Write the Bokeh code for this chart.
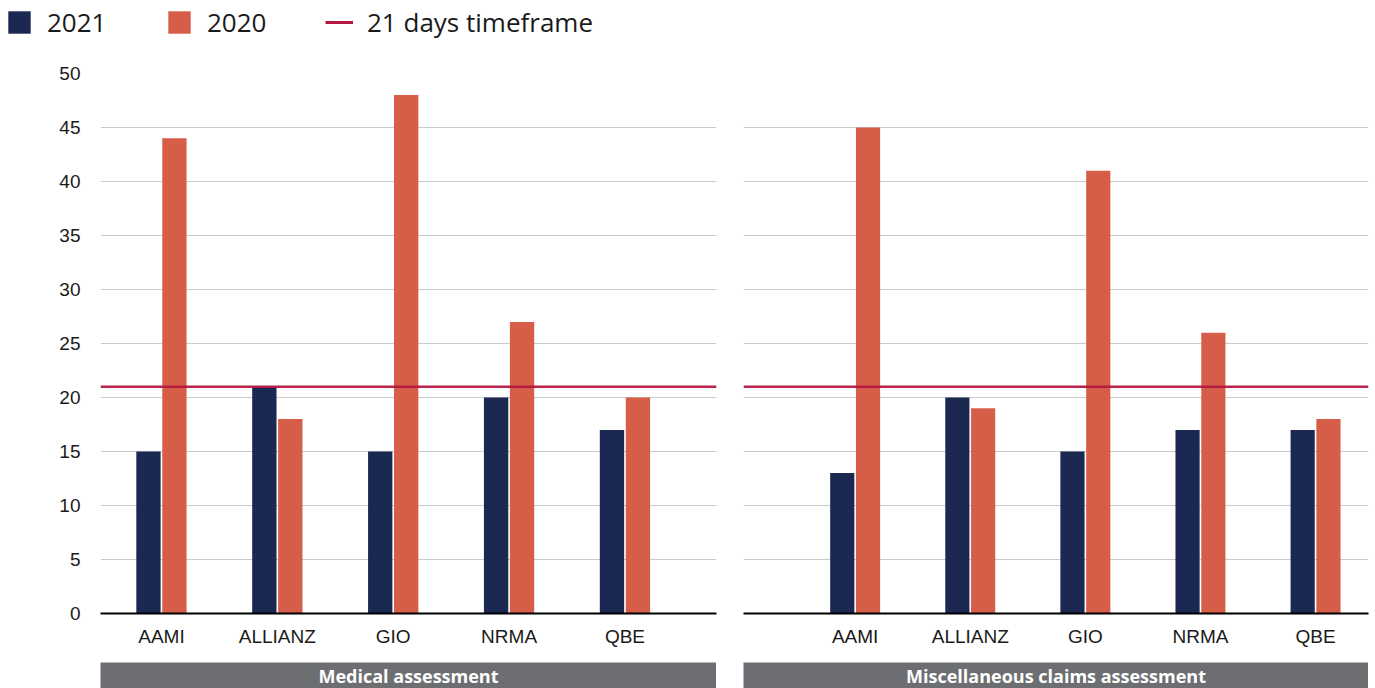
from bokeh.plotting import figure
from bokeh.layouts import column, row
from bokeh.models import (ColumnDataSource, Range1d, FixedTicker, Span, Legend, LegendItem,
                          Grid, Label, Spacer)
from bokeh.transform import dodge
from bokeh.embed import file_html
from bokeh.resources import INLINE

categories = ["AAMI", "ALLIANZ", "GIO", "NRMA", "QBE"]
medical_2021 = [15, 21, 15, 20, 17]
medical_2020 = [44, 18, 48, 27, 20]
misc_2021 = [13, 20, 15, 17, 17]
misc_2020 = [45, 19, 41, 26, 18]
threshold = 21
y_ticks = [0, 5, 10, 15, 20, 25, 30, 35, 40, 45, 50]
panel_titles = ["Medical assessment", "Miscellaneous claims assessment"]
series_names = ["2021", "2020", "21 days timeframe"]

NAVY = "#1B2852"
ORANGE = "#D65E48"
RED = "#B5173F"
GRID = "#CBCBCB"
BAND = "#6D6E71"
TXT = "#1A1A1A"
AXFONT = "Liberation Sans"


def panel(v21, v20, width, xr, bl, br, show_y):
    p = figure(width=width, height=599, output_backend="svg", toolbar_location=None,
               x_range=Range1d(*xr), y_range=Range1d(0, 50),
               min_border_left=bl, min_border_right=br, min_border_top=10, min_border_bottom=49,
               y_axis_location="left" if show_y else None)
    p.outline_line_color = None
    p.background_fill_color = "white"
    src = ColumnDataSource(dict(x=list(range(len(categories))), a=v21, b=v20))
    p.vbar(x=dodge("x", -0.112, range=p.x_range), top="a", width=0.21, bottom=0,
           source=src, fill_color=NAVY, line_color=None)
    p.vbar(x=dodge("x", 0.112, range=p.x_range), top="b", width=0.21, bottom=0,
           source=src, fill_color=ORANGE, line_color=None)
    p.add_layout(Span(location=threshold, dimension="width", line_color=RED,
                      line_width=2.5, line_alpha=0.95))
    p.xgrid.visible = False
    p.ygrid.visible = False
    p.add_layout(Grid(dimension=1, ticker=FixedTicker(ticks=y_ticks),
                      grid_line_color=GRID, grid_line_width=1))
    xa = p.xaxis[0]
    xa.ticker = FixedTicker(ticks=list(range(len(categories))))
    xa.major_label_overrides = {i: c for i, c in enumerate(categories)}
    xa.axis_line_color = "black"
    xa.axis_line_width = 2
    xa.major_tick_line_color = None
    xa.minor_tick_line_color = None
    xa.major_tick_out = 0
    xa.major_label_standoff = 12
    xa.major_label_text_font = AXFONT
    xa.major_label_text_font_size = "19px"
    xa.major_label_text_color = TXT
    if show_y:
        ya = p.yaxis[0]
        ya.ticker = FixedTicker(ticks=y_ticks)
        ya.axis_line_color = None
        ya.major_tick_line_color = None
        ya.minor_tick_line_color = None
        ya.major_tick_out = 0
        ya.major_label_standoff = 20
        ya.major_label_text_font = AXFONT
        ya.major_label_text_font_size = "19px"
        ya.major_label_text_color = TXT
    return p


left = panel(medical_2021, medical_2020, 730, (-0.526, 4.79), 100, 14, True)
right = panel(misc_2021, misc_2020, 645, (-0.97, 4.46), 13, 7, False)

# legend strip
lf = figure(width=1375, height=63, output_backend="svg", toolbar_location=None,
            x_range=Range1d(0, 1), y_range=Range1d(0, 1), x_axis_type=None, y_axis_type=None,
            min_border_left=5, min_border_right=0, min_border_top=4, min_border_bottom=0)
lf.outline_line_color = None
lf.xgrid.visible = False
lf.ygrid.visible = False
r1 = lf.vbar(x=[5], top=[0.5], width=0.1, fill_color=NAVY, line_color=None)
r2 = lf.vbar(x=[5], top=[0.5], width=0.1, fill_color=ORANGE, line_color=None)
r3 = lf.line(x=[5, 6], y=[0.5, 0.5], line_color=RED, line_width=3)
leg = Legend(items=[LegendItem(label=series_names[0], renderers=[r1]),
                    LegendItem(label=series_names[1], renderers=[r2]),
                    LegendItem(label=series_names[2], renderers=[r3])],
             orientation="horizontal", location="top_left", padding=0, margin=0,
             glyph_width=28, glyph_height=28, label_standoff=14, label_width=108, spacing=10,
             label_text_font="Open Sans", label_text_font_size="26px", label_text_color=TXT,
             background_fill_alpha=0, border_line_alpha=0)
lf.add_layout(leg)


def band(text, width):
    b = figure(width=width, height=26, output_backend="svg", toolbar_location=None,
               x_range=Range1d(0, 1), y_range=Range1d(0, 1), x_axis_type=None, y_axis_type=None,
               min_border=0, min_border_left=0, min_border_right=0, min_border_top=0,
               min_border_bottom=0)
    b.outline_line_color = None
    b.background_fill_color = BAND
    b.border_fill_color = BAND
    b.xgrid.visible = False
    b.ygrid.visible = False
    b.add_layout(Label(x=0.5, y=0.5, text=text, text_align="center", text_baseline="middle",
                       text_color="white", text_font="Open Sans",
                       text_font_style="bold", text_font_size="18px"))
    return b


bands = row(Spacer(width=100, height=26), band(panel_titles[0], 616),
            Spacer(width=27, height=26), band(panel_titles[1], 625))

layout = column(lf, row(left, right), bands)
open("out.html", "w").write(file_html(layout, INLINE))
